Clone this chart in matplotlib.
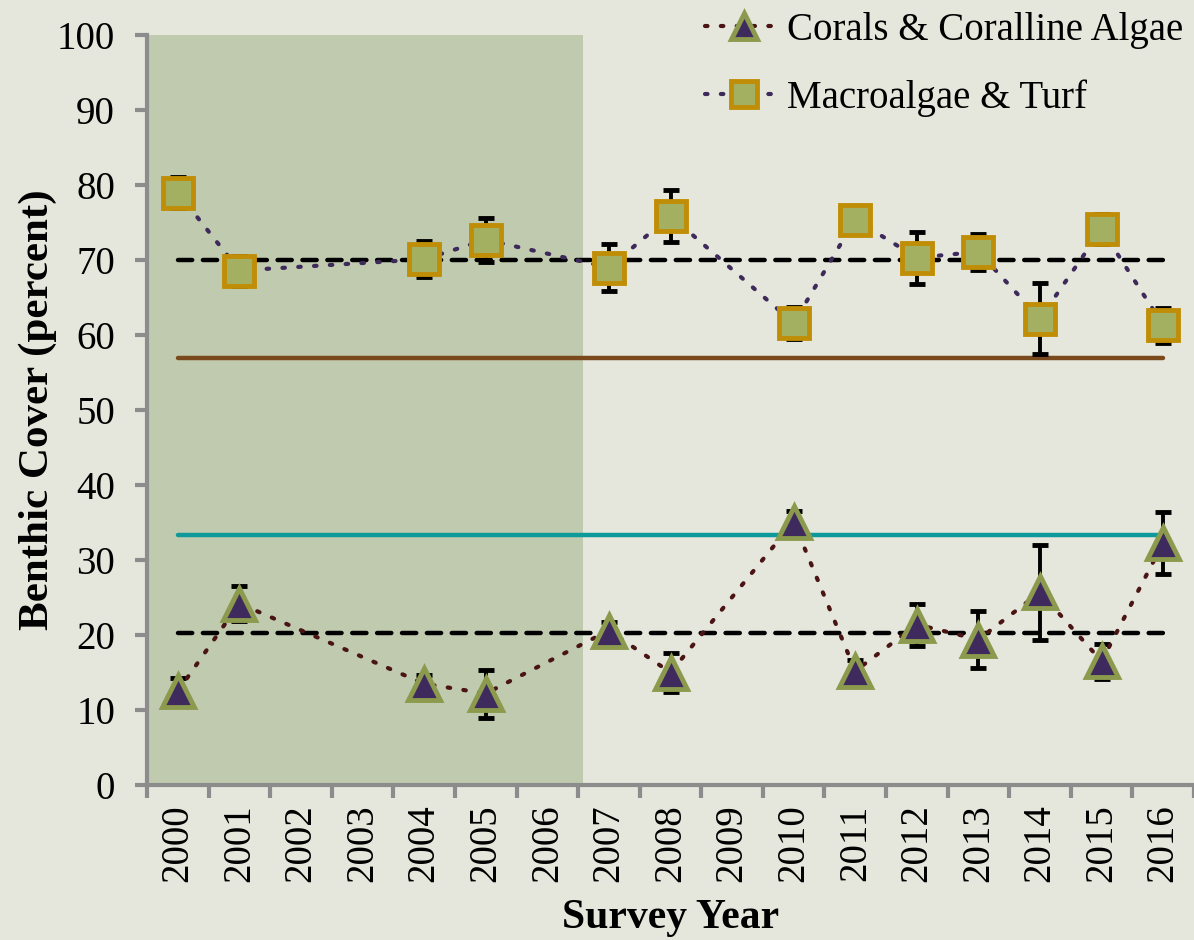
import matplotlib
matplotlib.use("Agg")
import matplotlib.pyplot as plt
import numpy as np

years = ["2000", "2001", "2002", "2003", "2004", "2005", "2006", "2007", "2008",
         "2009", "2010", "2011", "2012", "2013", "2014", "2015", "2016"]
survey_years = ["2000", "2001", "2004", "2005", "2007", "2008", "2010", "2011",
                "2012", "2013", "2014", "2015", "2016"]

macro = [79.0, 68.6, 70.1, 72.7, 69.0, 75.9, 61.6, 75.4, 70.3, 71.1, 62.2, 74.1, 61.3]
macro_err = [2.1, 2.0, 2.4, 2.9, 3.1, 3.5, 2.1, 0.8, 3.5, 2.4, 4.8, 2.0, 2.3]
coral = [12.5, 24.2, 13.5, 12.2, 20.6, 15.0, 35.1, 15.2, 21.4, 19.4, 25.7, 16.5, 32.3]
coral_err = [1.8, 2.3, 1.2, 3.2, 1.2, 2.65, 1.5, 1.5, 2.8, 3.75, 6.3, 2.35, 4.1]

macro_mean = 70.0
coral_mean = 20.3
macro_ref = 57.0
coral_ref = 33.3
shade_end_year_idx = 6.58

plt.rcParams['font.family'] = ['Liberation Serif', 'DejaVu Serif']

bg = '#e5e6dc'
fig = plt.figure(figsize=(11.94, 9.40), dpi=100, facecolor=bg)
ax = fig.add_axes([147/1194, 155/940, 1047/1194, 750/940])
ax.set_facecolor(bg)

xpos = {y: i for i, y in enumerate(years)}
xs = np.array([xpos[y] for y in survey_years])

ax.axvspan(-0.5, shade_end_year_idx, ymin=0, ymax=1, color='#c0caaf', zorder=0, lw=0)

x0, x1 = xs[0], xs[-1]
ax.plot([x0, x1], [macro_mean, macro_mean], color='black', lw=3.2, ls=(0, (3.2, 2.4)),
        dash_capstyle='round', zorder=2)
ax.plot([x0, x1], [coral_mean, coral_mean], color='black', lw=3.2, ls=(0, (3.2, 2.4)),
        dash_capstyle='round', zorder=2)
ax.plot([x0, x1], [macro_ref, macro_ref], color='#7b4a1c', lw=3.2, solid_capstyle='round', zorder=2)
ax.plot([x0, x1], [coral_ref, coral_ref], color='#0e9a9a', lw=3.2, solid_capstyle='round', zorder=2)

ax.errorbar(xs, macro, yerr=macro_err, fmt='none', ecolor='black', elinewidth=2.8,
            capsize=6, capthick=3.5, zorder=3)
ax.errorbar(xs, coral, yerr=coral_err, fmt='none', ecolor='black', elinewidth=2.8,
            capsize=6, capthick=3.5, zorder=3)

l1, = ax.plot(xs, coral, ls=(0, (0.6, 3.2)), color='#4a1414', lw=3, dash_capstyle='round',
              marker='^', ms=23, mfc='#3f2a5e', mec='#8b9a4c', mew=3.5, zorder=4,
              label='Corals & Coralline Algae')
l2, = ax.plot(xs, macro, ls=(0, (0.6, 3.2)), color='#3e2a5a', lw=3, dash_capstyle='round',
              marker='s', ms=22, mfc='#a3b062', mec='#c08d06', mew=3.5, zorder=4,
              label='Macroalgae & Turf')

ax.set_xlim(-0.5, len(years) - 0.5)
ax.set_ylim(0, 100)
ax.set_yticks(np.arange(0, 101, 10))
ax.set_xticks(np.arange(len(years)))
ax.set_xticklabels(years, rotation=90, fontsize=28)
ax.set_xticks(np.arange(-0.5, len(years), 1), minor=True)
ax.tick_params(axis='x', which='major', length=0, pad=14)
ax.tick_params(axis='x', which='minor', length=9, width=3, color='#8c8c8c')
ax.tick_params(axis='y', which='major', length=9, width=3, color='#8c8c8c', labelsize=28, pad=14)

for s in ['top', 'right']:
    ax.spines[s].set_visible(False)
for s in ['left', 'bottom']:
    ax.spines[s].set_color('#8c8c8c')
    ax.spines[s].set_linewidth(3)

ax.set_xlabel('Survey Year', fontsize=30, fontweight='bold', labelpad=12)
ax.set_ylabel('Benthic Cover (percent)', fontsize=31, fontweight='bold', labelpad=0)

leg = fig.legend(handles=[l1, l2], loc='upper right', bbox_to_anchor=(1.007, 1.008),
                 frameon=False, fontsize=28, handlelength=2.0, handletextpad=0.1,
                 labelspacing=0.78, borderaxespad=0.1, numpoints=1)
for h in leg.legend_handles:
    h.set_markersize(19)

fig.savefig('out.png', dpi=100, facecolor=bg)
